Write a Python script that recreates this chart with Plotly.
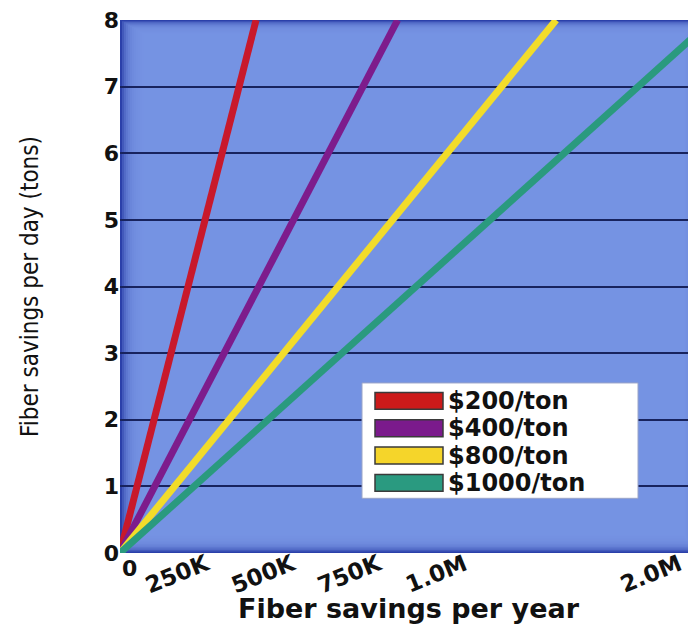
import plotly.graph_objects as go

# ---- data (x in $K along the drawn axis, y in tons/day) ----
SERIES_NAMES = ["$200/ton", "$400/ton", "$800/ton", "$1000/ton"]
TONS_PER_DAY = [0, 8]
SAVINGS_200 = [0, 395]
SAVINGS_400 = [0, 806]
SAVINGS_800 = [0, 1266]
SAVINGS_1000 = [0, 1719]
X_TICK_VALUES = [0, 250, 500, 750, 1000, 1623]
X_TICK_LABELS = ["0", "250K", "500K", "750K", "1.0M", "2.0M"]
Y_TICK_VALUES = [0, 1, 2, 3, 4, 5, 6, 7, 8]

LINE_COLORS = ["#c8192b", "#7d1c8c", "#f2dc2a", "#2a9a7e"]
SWATCH_COLORS = ["#cc1a1a", "#7b1a8c", "#f5d52a", "#2a9a80"]

X_MAX = 1672
OFF = 8  # default page body margin
W, H = 696 - OFF, 633 - 2 * OFF
M_L, M_R, M_T = 120 - OFF, 0, 17 - OFF
M_B = H - (553 - OFF)
PW, PH = W - M_L - M_R, H - M_T - M_B

fig = go.Figure()
for name, xs, col in zip(SERIES_NAMES, [SAVINGS_200, SAVINGS_400, SAVINGS_800, SAVINGS_1000], LINE_COLORS):
    fig.add_trace(go.Scatter(x=xs, y=TONS_PER_DAY, mode="lines", name=name,
                             line=dict(color=col, width=7), showlegend=False))


def px_x(p):  # page pixel -> paper x
    return (p - OFF - M_L) / PW


def px_y(p):  # page pixel -> paper y
    return (H - M_B - (p - OFF)) / PH


shapes = []
# bevelled blue background: dark base + stacked light insets
N = 12
for i in range(N):
    f = (i + 1) / N
    shapes.append(dict(type="rect", xref="paper", yref="paper", layer="below",
                       x0=(24 * f) / PW, x1=1 - (12 * f) / PW,
                       y0=(18 * f) / PH, y1=1 - (14 * f) / PH,
                       fillcolor="rgba(120,148,230,0.30)", line=dict(width=0)))

# legend box built from the series lists
shapes.append(dict(type="rect", xref="paper", yref="paper", layer="above",
                   x0=px_x(362), x1=px_x(638), y0=px_y(498), y1=px_y(382),
                   fillcolor="white", line=dict(color="#9aa4c8", width=1)))
annotations = []
row_centers = [400, 427.5, 455, 482.5]
for name, col, yc in zip(SERIES_NAMES, SWATCH_COLORS, row_centers):
    shapes.append(dict(type="rect", xref="paper", yref="paper", layer="above",
                       x0=px_x(375), x1=px_x(443), y0=px_y(yc + 8.5), y1=px_y(yc - 8.5),
                       fillcolor=col, line=dict(color="#3a3a3a", width=1.5)))
    annotations.append(dict(xref="paper", yref="paper", x=px_x(446), y=px_y(yc),
                            xanchor="left", yanchor="middle", text=name, showarrow=False,
                            font=dict(family="DejaVu Sans", size=24, color="#111111", weight="bold")))

# x-axis "0" label sits to the right of the origin, clear of the y-axis "0"
annotations.append(dict(xref="x", yref="paper", x=X_TICK_VALUES[0], y=0,
                        xanchor="left", yanchor="top", yshift=-1, text=X_TICK_LABELS[0],
                        showarrow=False,
                        font=dict(family="DejaVu Sans", size=22, color="#111111", weight="bold")))

# x-axis title
annotations.append(dict(xref="paper", yref="paper", x=px_x(409), y=px_y(609),
                        xanchor="center", yanchor="middle", text="Fiber savings per year",
                        showarrow=False,
                        font=dict(family="DejaVu Sans", size=27, color="#111111", weight="bold")))

fig.update_layout(
    width=W, height=H,
    margin=dict(l=M_L, r=M_R, t=M_T, b=M_B),
    paper_bgcolor="white",
    plot_bgcolor="#2b40aa",
    shapes=shapes,
    annotations=annotations,
    showlegend=False,
    xaxis=dict(range=[0, X_MAX], tickvals=X_TICK_VALUES[1:], ticktext=X_TICK_LABELS[1:],
               tickangle=-22, showgrid=False, zeroline=False, showline=False, ticks="",
               ticklabeloverflow="allow", ticklabelstandoff=-7,
               tickfont=dict(family="DejaVu Sans", size=23, color="#111111", weight="bold")),
    yaxis=dict(range=[0, 8], tickvals=Y_TICK_VALUES, showgrid=True, gridcolor="#18235e",
               gridwidth=2, zeroline=False, showline=False, ticks="",
               ticklabeloverflow="allow",
               tickfont=dict(family="DejaVu Sans", size=22, color="#111111", weight="bold"),
               title=dict(text="Fiber savings per day (tons)", standoff=58,
                          font=dict(family="DejaVu Sans Condensed, Liberation Sans", size=24,
                                    color="#111111"))),
)

fig.write_html("out.html")
